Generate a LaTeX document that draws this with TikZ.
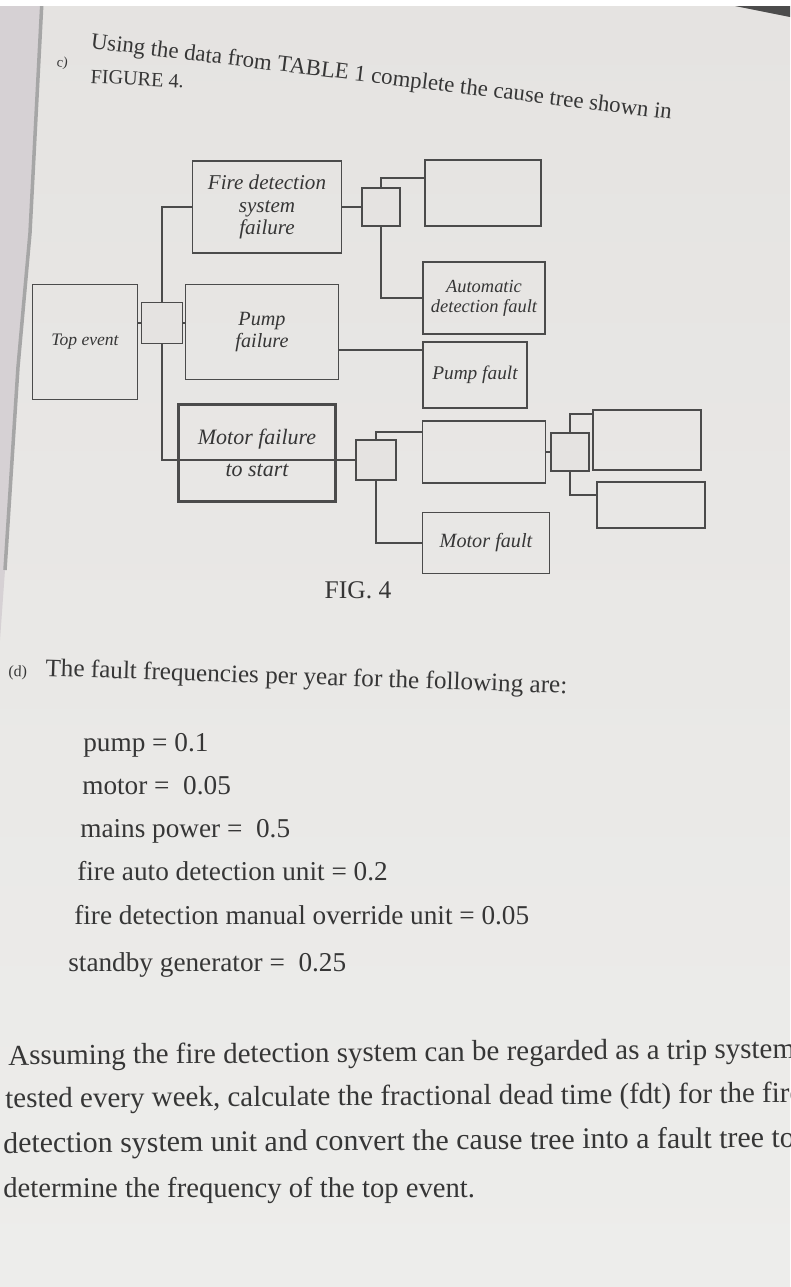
\documentclass[tikz,border=0pt]{standalone}
\usepackage{fontspec}
\setmainfont{Liberation Serif}
\usetikzlibrary{positioning}
\definecolor{paper}{HTML}{E5E3E1}
\definecolor{paperlow}{HTML}{EDEDEB}
\definecolor{ink}{HTML}{363636}
\definecolor{edge}{HTML}{4B4B4B}
\definecolor{spine}{HTML}{D6D1D4}

\tikzset{
  evbox/.style={draw=edge,line width=1pt,inner sep=1pt,align=center,text=ink,font=\fontsize{12}{13}\selectfont\itshape},
  gatebox/.style={draw=edge,line width=1pt,fill=paper,minimum size=7.8mm,inner sep=0pt},
  link/.style={draw=edge,line width=0.9pt},
  txt/.style={text=ink,inner sep=0pt,anchor=base west,font=\fontsize{15.5}{18}\selectfont},
}

\begin{document}
\begin{tikzpicture}[x=0.2mm,y=-0.2mm]
  \useasboundingbox (0,0) rectangle (790,1287);
  % photographed page
  \shade[top color=paper,bottom color=paperlow] (0,0) rectangle (790,1287);
  \fill[spine] (0,0) -- (42,0) -- (30,233) -- (18,367) -- (5,570) -- (0,640) -- cycle;
  \draw[gray!70,line width=2pt] (42,0) -- (30,233) -- (18,367) -- (5,570);
  \fill[white] (0,0) rectangle (790,6);
  \fill[black!70] (735,6) -- (790,6) -- (790,17) -- cycle;

  % question (c)
  \node[txt,font=\fontsize{8}{9}\selectfont,rotate=-8] (qc) at (56,66) {c)};
  \node[txt,font=\fontsize{13}{15}\selectfont,rotate=-7] (qctext) at (90,48) {Using the data from TABLE 1 complete the cause tree shown in};
  \node[txt,font=\fontsize{11.5}{13}\selectfont,rotate=-3] (qcfig) at (90,83) {FIGURE 4.};

  % cause tree
  \node[evbox,minimum width=21mm,minimum height=23mm,font=\fontsize{10}{11}\selectfont\itshape] (top) at (85,342) {Top event};
  \node[gatebox,minimum size=8.2mm] (g0) at (162,323) {};
  \node[evbox,minimum width=29.8mm,minimum height=18.4mm] (fire) at (267,207) {Fire detection\\system\\failure};
  \node[evbox,minimum width=30.6mm,minimum height=19mm,font=\fontsize{11.5}{13}\selectfont\itshape] (pump) at (262,332) {Pump\\failure};
  \node[evbox,minimum width=31.4mm,minimum height=19.4mm,line width=1.3pt,font=\fontsize{12.5}{13}\selectfont\itshape] (motor) at (257,453) {Motor failure\\[5pt]to start};

  \node[gatebox,minimum size=7.6mm] (g1) at (381,207) {};
  \node[evbox,minimum width=23.2mm,minimum height=13.2mm] (fireA) at (483,193) {};
  \node[evbox,minimum width=24.4mm,minimum height=14.4mm,font=\fontsize{10.5}{11.5}\selectfont\itshape] (auto) at (484,298) {Automatic\\detection fault};
  \node[evbox,minimum width=20.8mm,minimum height=13.2mm,font=\fontsize{11}{12}\selectfont\itshape] (pumpfault) at (475,375) {Pump fault};

  \node[gatebox,minimum size=8mm] (g2) at (376,460) {};
  \node[evbox,minimum width=24.6mm,minimum height=12.4mm] (motorA) at (484,452) {};
  \node[gatebox,minimum size=7.6mm] (g3) at (570,452) {};
  \node[evbox,minimum width=21.6mm,minimum height=12mm] (motorB) at (647,440) {};
  \node[evbox,minimum width=21.6mm,minimum height=9.2mm] (motorC) at (651,505) {};
  \node[evbox,minimum width=25.4mm,minimum height=12.2mm,font=\fontsize{11.5}{12}\selectfont\itshape] (motorfault) at (486,543) {Motor fault};

  \draw[link] (g0.west) -- (g0.west -| top.east);
  \draw[link] (g0.east) -- (g0.east -| pump.west);
  \draw[link] (g0.north) |- (fire.west);
  \draw[link] (g0.south) |- (g2.west);
  \draw[link] (fire.east) -- (g1.west);
  \draw[link] (g1.north) |- ([yshift=3mm]fireA.west);
  \draw[link] (g1.south) |- (auto.west);
  \draw[link] ([yshift=5mm]pumpfault.west) -- ([yshift=5mm]pumpfault.west -| pump.east);
  \draw[link] (g2.north) |- ([yshift=4mm]motorA.west);
  \draw[link] (g2.south) |- (motorfault.west);
  \draw[link] (motorA.east) -- (g3.west);
  \draw[link] (g3.north) |- ([yshift=5.2mm]motorB.west);
  \draw[link] (g3.south) |- ([yshift=2mm]motorC.west);

  \node[text=ink,font=\fontsize{14.5}{16}\selectfont] (figcap) at (358,590) {FIG. 4};

  % question (d)
  \node[txt,font=\fontsize{9}{10}\selectfont,rotate=-2] (qd) at (8,676) {(d)};
  \node[txt,font=\fontsize{14.3}{16}\selectfont,rotate=-1.9] (qdtext) at (45,676) {The fault frequencies per year for the following are:};
  \node[txt] (fpump) at (83,751) {pump = 0.1};
  \node[txt] (fmotor) at (82,794) {motor = \ 0.05};
  \node[txt] (fmains) at (80,837) {mains power = \ 0.5};
  \node[txt] (fauto) at (77,880) {fire auto detection unit = 0.2};
  \node[txt] (fmanual) at (74,924) {fire detection manual override unit = 0.05};
  \node[txt] (fstandby) at (68,971) {standby generator = \ 0.25};

  \node[txt,font=\fontsize{16.5}{19}\selectfont,rotate=0.5] (para1) at (8,1065) {Assuming the fire detection system can be regarded as a trip system};
  \node[txt,font=\fontsize{16.5}{19}\selectfont,rotate=0.4] (para2) at (5,1108) {tested every week, calculate the fractional dead time (fdt) for the fire};
  \node[txt,font=\fontsize{17}{19}\selectfont,rotate=0.4] (para3) at (3,1153) {detection system unit and convert the cause tree into a fault tree to};
  \node[txt,font=\fontsize{16.3}{19}\selectfont] (para4) at (3,1197) {determine the frequency of the top event.};
\end{tikzpicture}
\end{document}
